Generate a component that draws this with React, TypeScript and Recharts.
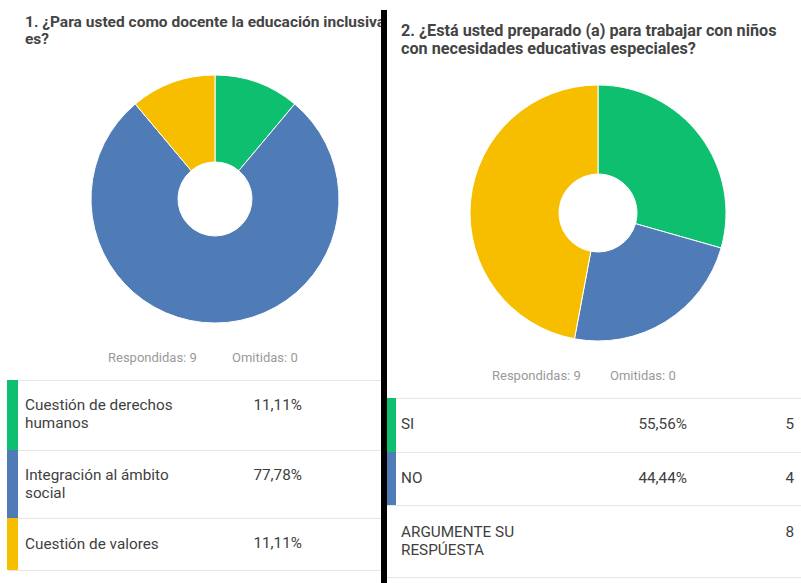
import { PieChart, Pie, Cell } from 'recharts'

// Pregunta 1
const q1Labels = ['Cuestión de derechos humanos', 'Integración al ámbito social', 'Cuestión de valores']
const q1Lines = [['Cuestión de derechos', 'humanos'], ['Integración al ámbito', 'social'], ['Cuestión de valores']]
const q1Values = [1, 7, 1]
const q1Percents = ['11,11%', '77,78%', '11,11%']

// Pregunta 2
const q2Labels = ['SI', 'NO', 'ARGUMENTE SU RESPÚESTA']
const q2Lines = [['SI'], ['NO'], ['ARGUMENTE SU', 'RESPÚESTA']]
const q2Values = [5, 4, 8]
const q2Percents = ['55,56%', '44,44%', '']

const COLORS = ['#0DBF6E', '#4F7BB6', '#F7BE00']
const FONT = 'Roboto, "Noto Sans", sans-serif'
const TEXT = '#3f3f3f'
const LINE = '#e6e6e6'

const q1Data = q1Labels.map((name, i) => ({ name, value: q1Values[i] }))
const q2Data = q2Labels.map((name, i) => ({ name, value: q2Values[i] }))

const abs = (left: number, top: number, extra: object = {}) => ({ position: 'absolute' as const, left, top, ...extra })

export default function App() {
  return (
    <div style={{ position: 'absolute', left: 0, top: 0, width: 801, height: 583, background: '#fff', overflow: 'hidden', fontFamily: FONT, color: TEXT }}>

      {/* ── Pregunta 1 ───────────────────────── */}
      <div style={abs(25, 14, { width: 420, fontSize: 15.5, fontWeight: 700, lineHeight: '17px', color: '#444', whiteSpace: 'nowrap' })}>
        1. ¿Para usted como docente la educación inclusiva<br />es?
      </div>
      <div style={abs(0, 0)}>
        <PieChart width={380} height={340}>
          <Pie data={q1Data} dataKey="value" cx={210} cy={194} outerRadius={124} innerRadius={37}
            startAngle={90} endAngle={-270} stroke="#fff" strokeWidth={1} isAnimationActive={false}>
            {q1Data.map((d, i) => <Cell key={d.name} fill={COLORS[i]} />)}
          </Pie>
        </PieChart>
      </div>
      <div style={abs(108, 350, { fontSize: 13, color: '#9a9a9a' })}>Respondidas: 9</div>
      <div style={abs(232, 350, { fontSize: 13, color: '#9a9a9a' })}>Omitidas: 0</div>
      {[380, 450, 518].map((y, i) => (
        <div key={y}>
          <div style={abs(8, y, { width: 373, height: 1, background: LINE })} />
          <div style={abs(7, y, { width: 11, height: [70, 68, 52][i], background: COLORS[i] })} />
          <div style={abs(25, y + (q1Lines[i].length > 1 ? 16 : 17), { fontSize: 15.3, lineHeight: '18px' })}>
            {q1Lines[i].map(l => <div key={l}>{l}</div>)}
          </div>
          <div style={abs(202, y + 16, { width: 100, textAlign: 'right', fontSize: 15.3, lineHeight: '18px' })}>{q1Percents[i]}</div>
        </div>
      ))}
      <div style={abs(8, 570, { width: 373, height: 1, background: LINE })} />

      {/* ── Pregunta 2 ───────────────────────── */}
      <div style={abs(401, 22, { width: 400, fontSize: 16.2, fontWeight: 700, lineHeight: '18px', color: '#444', whiteSpace: 'nowrap' })}>
        2. ¿Está usted preparado (a) para trabajar con niños<br />con necesidades educativas especiales?
      </div>
      <div style={abs(387, 0)}>
        <PieChart width={414} height={360}>
          <Pie data={q2Data} dataKey="value" cx={206} cy={208} outerRadius={128} innerRadius={39}
            startAngle={90} endAngle={-270} stroke="#fff" strokeWidth={1} isAnimationActive={false}>
            {q2Data.map((d, i) => <Cell key={d.name} fill={COLORS[i]} />)}
          </Pie>
        </PieChart>
      </div>
      <div style={abs(492, 368, { fontSize: 13, color: '#9a9a9a' })}>Respondidas: 9</div>
      <div style={abs(610, 368, { fontSize: 13, color: '#9a9a9a' })}>Omitidas: 0</div>
      {[398, 452, 505].map((y, i) => (
        <div key={y}>
          <div style={abs(387, y, { width: 414, height: 1, background: LINE })} />
          {i < 2 && <div style={abs(387, y, { width: 9, height: [54, 53][i], background: COLORS[i] })} />}
          <div style={abs(401, y + (q2Lines[i].length > 1 ? 18 : 17), { fontSize: 15.3, lineHeight: '18px' })}>
            {q2Lines[i].map(l => <div key={l}>{l}</div>)}
          </div>
          <div style={abs(587, y + 17, { width: 100, textAlign: 'right', fontSize: 15.3, lineHeight: '18px' })}>{q2Percents[i]}</div>
          <div style={abs(743, y + (i === 2 ? 18 : 17), { width: 51, textAlign: 'right', fontSize: 15.3, lineHeight: '18px' })}>{q2Values[i]}</div>
        </div>
      ))}
      <div style={abs(387, 577, { width: 414, height: 1, background: LINE })} />

      {/* separador negro */}
      <div style={abs(381, 10, { width: 6, height: 573, background: '#000' })} />
    </div>
  )
}
